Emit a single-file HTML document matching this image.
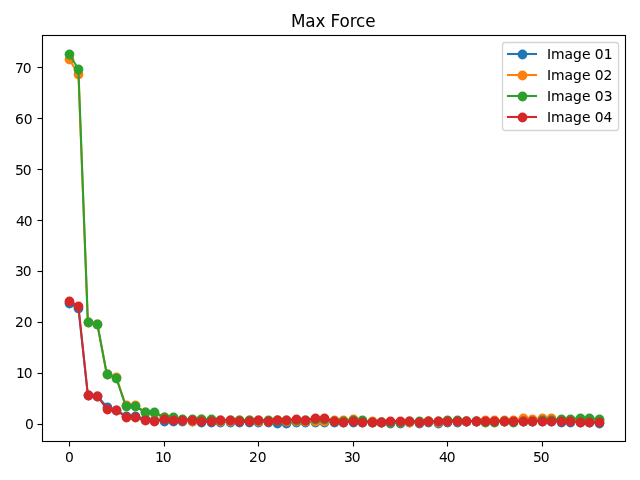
<!DOCTYPE html>
<html lang="en">
<head>
<meta charset="utf-8">
<title>Max Force</title>
<style>
html,body{margin:0;padding:0;background:#ffffff;width:640px;height:480px;overflow:hidden}
svg{display:block;width:640px;height:480px}
</style>
</head>
<body>
<svg width="640" height="480" viewBox="0 0 640 480">
<rect x="0" y="0" width="640" height="480" fill="#ffffff"/>
<defs><clipPath id="axclip"><rect x="42.5" y="35.5" width="583.0" height="406.0"/></clipPath></defs>
<g clip-path="url(#axclip)">
<g fill="#1f77b4" stroke="none">
<polyline points="68.94,303.00 78.40,308.00 87.86,395.00 97.31,396.00 106.77,407.00 116.23,410.00 125.68,416.00 135.14,416.00 144.60,419.00 154.05,420.00 163.51,421.00 172.97,421.00 182.42,421.00 191.88,421.00 201.34,422.00 210.79,422.00 220.25,422.00 229.71,422.00 239.17,422.00 248.62,422.00 258.08,422.00 267.54,422.00 276.99,423.00 286.45,423.00 295.91,422.00 305.36,422.00 314.82,422.00 324.28,422.00 333.73,422.00 343.19,422.00 352.65,422.00 362.10,422.00 371.56,422.00 381.02,422.00 390.47,423.00 399.93,423.00 409.39,422.00 418.84,423.00 428.30,422.00 437.76,423.00 447.21,422.00 456.67,422.00 466.13,421.00 475.58,421.00 485.04,421.00 494.50,421.00 503.95,421.00 513.41,421.00 522.87,421.00 532.32,421.00 541.78,421.00 551.24,421.00 560.69,422.00 570.15,422.00 579.61,422.00 589.06,422.00 598.52,423.00" fill="none" stroke="#1f77b4" stroke-width="2.083" stroke-linejoin="round" stroke-linecap="square"/>
<circle cx="69.5" cy="303.5" r="4.88"/><circle cx="78.5" cy="308.5" r="4.88"/><circle cx="88.5" cy="395.5" r="4.88"/><circle cx="97.5" cy="396.5" r="4.88"/><circle cx="107.5" cy="407.5" r="4.88"/><circle cx="116.5" cy="410.5" r="4.88"/><circle cx="126.5" cy="416.5" r="4.88"/><circle cx="135.5" cy="416.5" r="4.88"/><circle cx="145.5" cy="419.5" r="4.88"/><circle cx="154.5" cy="420.5" r="4.88"/><circle cx="164.5" cy="421.5" r="4.88"/><circle cx="173.5" cy="421.5" r="4.88"/><circle cx="182.5" cy="421.5" r="4.88"/><circle cx="192.5" cy="421.5" r="4.88"/><circle cx="201.5" cy="422.5" r="4.88"/><circle cx="211.5" cy="422.5" r="4.88"/><circle cx="220.5" cy="422.5" r="4.88"/><circle cx="230.5" cy="422.5" r="4.88"/><circle cx="239.5" cy="422.5" r="4.88"/><circle cx="249.5" cy="422.5" r="4.88"/><circle cx="258.5" cy="422.5" r="4.88"/><circle cx="268.5" cy="422.5" r="4.88"/><circle cx="277.5" cy="423.5" r="4.88"/><circle cx="286.5" cy="423.5" r="4.88"/><circle cx="296.5" cy="422.5" r="4.88"/><circle cx="305.5" cy="422.5" r="4.88"/><circle cx="315.5" cy="422.5" r="4.88"/><circle cx="324.5" cy="422.5" r="4.88"/><circle cx="334.5" cy="422.5" r="4.88"/><circle cx="343.5" cy="422.5" r="4.88"/><circle cx="353.5" cy="422.5" r="4.88"/><circle cx="362.5" cy="422.5" r="4.88"/><circle cx="372.5" cy="422.5" r="4.88"/><circle cx="381.5" cy="422.5" r="4.88"/><circle cx="390.5" cy="423.5" r="4.88"/><circle cx="400.5" cy="423.5" r="4.88"/><circle cx="409.5" cy="422.5" r="4.88"/><circle cx="419.5" cy="423.5" r="4.88"/><circle cx="428.5" cy="422.5" r="4.88"/><circle cx="438.5" cy="423.5" r="4.88"/><circle cx="447.5" cy="422.5" r="4.88"/><circle cx="457.5" cy="422.5" r="4.88"/><circle cx="466.5" cy="421.5" r="4.88"/><circle cx="476.5" cy="421.5" r="4.88"/><circle cx="485.5" cy="421.5" r="4.88"/><circle cx="494.5" cy="421.5" r="4.88"/><circle cx="504.5" cy="421.5" r="4.88"/><circle cx="513.5" cy="421.5" r="4.88"/><circle cx="523.5" cy="421.5" r="4.88"/><circle cx="532.5" cy="421.5" r="4.88"/><circle cx="542.5" cy="421.5" r="4.88"/><circle cx="551.5" cy="421.5" r="4.88"/><circle cx="561.5" cy="422.5" r="4.88"/><circle cx="570.5" cy="422.5" r="4.88"/><circle cx="580.5" cy="422.5" r="4.88"/><circle cx="589.5" cy="422.5" r="4.88"/><circle cx="599.5" cy="423.5" r="4.88"/>
</g>
<g fill="#ff7f0e" stroke="none">
<polyline points="68.94,59.00 78.40,74.00 87.86,322.00 97.31,324.00 106.77,374.00 116.23,377.00 125.68,405.00 135.14,405.00 144.60,412.00 154.05,413.00 163.51,417.00 172.97,418.00 182.42,420.00 191.88,421.00 201.34,419.00 210.79,420.00 220.25,421.00 229.71,421.00 239.17,420.00 248.62,420.00 258.08,421.00 267.54,421.00 276.99,420.00 286.45,421.00 295.91,421.00 305.36,421.00 314.82,421.00 324.28,421.00 333.73,420.00 343.19,420.00 352.65,419.00 362.10,421.00 371.56,421.00 381.02,422.00 390.47,422.00 399.93,422.00 409.39,422.00 418.84,422.00 428.30,421.00 437.76,422.00 447.21,421.00 456.67,421.00 466.13,421.00 475.58,421.00 485.04,420.00 494.50,420.00 503.95,420.00 513.41,420.00 522.87,418.00 532.32,419.00 541.78,418.00 551.24,418.00 560.69,420.00 570.15,420.00 579.61,420.00 589.06,420.00 598.52,420.00" fill="none" stroke="#ff7f0e" stroke-width="2.083" stroke-linejoin="round" stroke-linecap="square"/>
<circle cx="69.5" cy="59.5" r="4.88"/><circle cx="78.5" cy="74.5" r="4.88"/><circle cx="88.5" cy="322.5" r="4.88"/><circle cx="97.5" cy="324.5" r="4.88"/><circle cx="107.5" cy="374.5" r="4.88"/><circle cx="116.5" cy="377.5" r="4.88"/><circle cx="126.5" cy="405.5" r="4.88"/><circle cx="135.5" cy="405.5" r="4.88"/><circle cx="145.5" cy="412.5" r="4.88"/><circle cx="154.5" cy="413.5" r="4.88"/><circle cx="164.5" cy="417.5" r="4.88"/><circle cx="173.5" cy="418.5" r="4.88"/><circle cx="182.5" cy="420.5" r="4.88"/><circle cx="192.5" cy="421.5" r="4.88"/><circle cx="201.5" cy="419.5" r="4.88"/><circle cx="211.5" cy="420.5" r="4.88"/><circle cx="220.5" cy="421.5" r="4.88"/><circle cx="230.5" cy="421.5" r="4.88"/><circle cx="239.5" cy="420.5" r="4.88"/><circle cx="249.5" cy="420.5" r="4.88"/><circle cx="258.5" cy="421.5" r="4.88"/><circle cx="268.5" cy="421.5" r="4.88"/><circle cx="277.5" cy="420.5" r="4.88"/><circle cx="286.5" cy="421.5" r="4.88"/><circle cx="296.5" cy="421.5" r="4.88"/><circle cx="305.5" cy="421.5" r="4.88"/><circle cx="315.5" cy="421.5" r="4.88"/><circle cx="324.5" cy="421.5" r="4.88"/><circle cx="334.5" cy="420.5" r="4.88"/><circle cx="343.5" cy="420.5" r="4.88"/><circle cx="353.5" cy="419.5" r="4.88"/><circle cx="362.5" cy="421.5" r="4.88"/><circle cx="372.5" cy="421.5" r="4.88"/><circle cx="381.5" cy="422.5" r="4.88"/><circle cx="390.5" cy="422.5" r="4.88"/><circle cx="400.5" cy="422.5" r="4.88"/><circle cx="409.5" cy="422.5" r="4.88"/><circle cx="419.5" cy="422.5" r="4.88"/><circle cx="428.5" cy="421.5" r="4.88"/><circle cx="438.5" cy="422.5" r="4.88"/><circle cx="447.5" cy="421.5" r="4.88"/><circle cx="457.5" cy="421.5" r="4.88"/><circle cx="466.5" cy="421.5" r="4.88"/><circle cx="476.5" cy="421.5" r="4.88"/><circle cx="485.5" cy="420.5" r="4.88"/><circle cx="494.5" cy="420.5" r="4.88"/><circle cx="504.5" cy="420.5" r="4.88"/><circle cx="513.5" cy="420.5" r="4.88"/><circle cx="523.5" cy="418.5" r="4.88"/><circle cx="532.5" cy="419.5" r="4.88"/><circle cx="542.5" cy="418.5" r="4.88"/><circle cx="551.5" cy="418.5" r="4.88"/><circle cx="561.5" cy="420.5" r="4.88"/><circle cx="570.5" cy="420.5" r="4.88"/><circle cx="580.5" cy="420.5" r="4.88"/><circle cx="589.5" cy="420.5" r="4.88"/><circle cx="599.5" cy="420.5" r="4.88"/>
</g>
<g fill="#2ca02c" stroke="none">
<polyline points="68.94,54.00 78.40,69.00 87.86,322.00 97.31,324.00 106.77,374.00 116.23,378.00 125.68,406.00 135.14,406.00 144.60,412.00 154.05,412.00 163.51,417.00 172.97,417.00 182.42,419.00 191.88,419.00 201.34,419.00 210.79,419.00 220.25,420.00 229.71,420.00 239.17,420.00 248.62,420.00 258.08,420.00 267.54,420.00 276.99,420.00 286.45,420.00 295.91,420.00 305.36,420.00 314.82,419.00 324.28,419.00 333.73,421.00 343.19,421.00 352.65,420.00 362.10,420.00 371.56,422.00 381.02,422.00 390.47,422.00 399.93,422.00 409.39,421.00 418.84,421.00 428.30,421.00 437.76,421.00 447.21,420.00 456.67,420.00 466.13,421.00 475.58,421.00 485.04,422.00 494.50,422.00 503.95,421.00 513.41,422.00 522.87,421.00 532.32,421.00 541.78,420.00 551.24,420.00 560.69,419.00 570.15,419.00 579.61,418.00 589.06,418.00 598.52,419.00" fill="none" stroke="#2ca02c" stroke-width="2.083" stroke-linejoin="round" stroke-linecap="square"/>
<circle cx="69.5" cy="54.5" r="4.88"/><circle cx="78.5" cy="69.5" r="4.88"/><circle cx="88.5" cy="322.5" r="4.88"/><circle cx="97.5" cy="324.5" r="4.88"/><circle cx="107.5" cy="374.5" r="4.88"/><circle cx="116.5" cy="378.5" r="4.88"/><circle cx="126.5" cy="406.5" r="4.88"/><circle cx="135.5" cy="406.5" r="4.88"/><circle cx="145.5" cy="412.5" r="4.88"/><circle cx="154.5" cy="412.5" r="4.88"/><circle cx="164.5" cy="417.5" r="4.88"/><circle cx="173.5" cy="417.5" r="4.88"/><circle cx="182.5" cy="419.5" r="4.88"/><circle cx="192.5" cy="419.5" r="4.88"/><circle cx="201.5" cy="419.5" r="4.88"/><circle cx="211.5" cy="419.5" r="4.88"/><circle cx="220.5" cy="420.5" r="4.88"/><circle cx="230.5" cy="420.5" r="4.88"/><circle cx="239.5" cy="420.5" r="4.88"/><circle cx="249.5" cy="420.5" r="4.88"/><circle cx="258.5" cy="420.5" r="4.88"/><circle cx="268.5" cy="420.5" r="4.88"/><circle cx="277.5" cy="420.5" r="4.88"/><circle cx="286.5" cy="420.5" r="4.88"/><circle cx="296.5" cy="420.5" r="4.88"/><circle cx="305.5" cy="420.5" r="4.88"/><circle cx="315.5" cy="419.5" r="4.88"/><circle cx="324.5" cy="419.5" r="4.88"/><circle cx="334.5" cy="421.5" r="4.88"/><circle cx="343.5" cy="421.5" r="4.88"/><circle cx="353.5" cy="420.5" r="4.88"/><circle cx="362.5" cy="420.5" r="4.88"/><circle cx="372.5" cy="422.5" r="4.88"/><circle cx="381.5" cy="422.5" r="4.88"/><circle cx="390.5" cy="422.5" r="4.88"/><circle cx="400.5" cy="422.5" r="4.88"/><circle cx="409.5" cy="421.5" r="4.88"/><circle cx="419.5" cy="421.5" r="4.88"/><circle cx="428.5" cy="421.5" r="4.88"/><circle cx="438.5" cy="421.5" r="4.88"/><circle cx="447.5" cy="420.5" r="4.88"/><circle cx="457.5" cy="420.5" r="4.88"/><circle cx="466.5" cy="421.5" r="4.88"/><circle cx="476.5" cy="421.5" r="4.88"/><circle cx="485.5" cy="422.5" r="4.88"/><circle cx="494.5" cy="422.5" r="4.88"/><circle cx="504.5" cy="421.5" r="4.88"/><circle cx="513.5" cy="422.5" r="4.88"/><circle cx="523.5" cy="421.5" r="4.88"/><circle cx="532.5" cy="421.5" r="4.88"/><circle cx="542.5" cy="420.5" r="4.88"/><circle cx="551.5" cy="420.5" r="4.88"/><circle cx="561.5" cy="419.5" r="4.88"/><circle cx="570.5" cy="419.5" r="4.88"/><circle cx="580.5" cy="418.5" r="4.88"/><circle cx="589.5" cy="418.5" r="4.88"/><circle cx="599.5" cy="419.5" r="4.88"/>
</g>
<g fill="#d62728" stroke="none">
<polyline points="68.94,301.00 78.40,306.00 87.86,395.00 97.31,396.00 106.77,409.00 116.23,410.00 125.68,417.00 135.14,417.00 144.60,420.00 154.05,421.00 163.51,419.00 172.97,420.00 182.42,420.00 191.88,420.00 201.34,421.00 210.79,421.00 220.25,420.00 229.71,420.00 239.17,421.00 248.62,421.00 258.08,420.00 267.54,421.00 276.99,420.00 286.45,420.00 295.91,419.00 305.36,420.00 314.82,418.00 324.28,418.00 333.73,421.00 343.19,422.00 352.65,421.00 362.10,422.00 371.56,422.00 381.02,422.00 390.47,421.00 399.93,421.00 409.39,421.00 418.84,422.00 428.30,421.00 437.76,421.00 447.21,421.00 456.67,421.00 466.13,421.00 475.58,421.00 485.04,421.00 494.50,421.00 503.95,421.00 513.41,421.00 522.87,421.00 532.32,421.00 541.78,421.00 551.24,421.00 560.69,421.00 570.15,421.00 579.61,422.00 589.06,422.00 598.52,422.00" fill="none" stroke="#d62728" stroke-width="2.083" stroke-linejoin="round" stroke-linecap="square"/>
<circle cx="69.5" cy="301.5" r="4.88"/><circle cx="78.5" cy="306.5" r="4.88"/><circle cx="88.5" cy="395.5" r="4.88"/><circle cx="97.5" cy="396.5" r="4.88"/><circle cx="107.5" cy="409.5" r="4.88"/><circle cx="116.5" cy="410.5" r="4.88"/><circle cx="126.5" cy="417.5" r="4.88"/><circle cx="135.5" cy="417.5" r="4.88"/><circle cx="145.5" cy="420.5" r="4.88"/><circle cx="154.5" cy="421.5" r="4.88"/><circle cx="164.5" cy="419.5" r="4.88"/><circle cx="173.5" cy="420.5" r="4.88"/><circle cx="182.5" cy="420.5" r="4.88"/><circle cx="192.5" cy="420.5" r="4.88"/><circle cx="201.5" cy="421.5" r="4.88"/><circle cx="211.5" cy="421.5" r="4.88"/><circle cx="220.5" cy="420.5" r="4.88"/><circle cx="230.5" cy="420.5" r="4.88"/><circle cx="239.5" cy="421.5" r="4.88"/><circle cx="249.5" cy="421.5" r="4.88"/><circle cx="258.5" cy="420.5" r="4.88"/><circle cx="268.5" cy="421.5" r="4.88"/><circle cx="277.5" cy="420.5" r="4.88"/><circle cx="286.5" cy="420.5" r="4.88"/><circle cx="296.5" cy="419.5" r="4.88"/><circle cx="305.5" cy="420.5" r="4.88"/><circle cx="315.5" cy="418.5" r="4.88"/><circle cx="324.5" cy="418.5" r="4.88"/><circle cx="334.5" cy="421.5" r="4.88"/><circle cx="343.5" cy="422.5" r="4.88"/><circle cx="353.5" cy="421.5" r="4.88"/><circle cx="362.5" cy="422.5" r="4.88"/><circle cx="372.5" cy="422.5" r="4.88"/><circle cx="381.5" cy="422.5" r="4.88"/><circle cx="390.5" cy="421.5" r="4.88"/><circle cx="400.5" cy="421.5" r="4.88"/><circle cx="409.5" cy="421.5" r="4.88"/><circle cx="419.5" cy="422.5" r="4.88"/><circle cx="428.5" cy="421.5" r="4.88"/><circle cx="438.5" cy="421.5" r="4.88"/><circle cx="447.5" cy="421.5" r="4.88"/><circle cx="457.5" cy="421.5" r="4.88"/><circle cx="466.5" cy="421.5" r="4.88"/><circle cx="476.5" cy="421.5" r="4.88"/><circle cx="485.5" cy="421.5" r="4.88"/><circle cx="494.5" cy="421.5" r="4.88"/><circle cx="504.5" cy="421.5" r="4.88"/><circle cx="513.5" cy="421.5" r="4.88"/><circle cx="523.5" cy="421.5" r="4.88"/><circle cx="532.5" cy="421.5" r="4.88"/><circle cx="542.5" cy="421.5" r="4.88"/><circle cx="551.5" cy="421.5" r="4.88"/><circle cx="561.5" cy="421.5" r="4.88"/><circle cx="570.5" cy="421.5" r="4.88"/><circle cx="580.5" cy="422.5" r="4.88"/><circle cx="589.5" cy="422.5" r="4.88"/><circle cx="599.5" cy="422.5" r="4.88"/>
</g>
</g>
<g stroke="#000000" stroke-width="1.111" fill="none">
<line x1="69.5" y1="441.5" x2="69.5" y2="446.5"/>
<line x1="164.5" y1="441.5" x2="164.5" y2="446.5"/>
<line x1="258.5" y1="441.5" x2="258.5" y2="446.5"/>
<line x1="353.5" y1="441.5" x2="353.5" y2="446.5"/>
<line x1="447.5" y1="441.5" x2="447.5" y2="446.5"/>
<line x1="542.5" y1="441.5" x2="542.5" y2="446.5"/>
<line x1="37.5" y1="424.5" x2="42.5" y2="424.5"/>
<line x1="37.5" y1="373.5" x2="42.5" y2="373.5"/>
<line x1="37.5" y1="322.5" x2="42.5" y2="322.5"/>
<line x1="37.5" y1="271.5" x2="42.5" y2="271.5"/>
<line x1="37.5" y1="220.5" x2="42.5" y2="220.5"/>
<line x1="37.5" y1="169.5" x2="42.5" y2="169.5"/>
<line x1="37.5" y1="118.5" x2="42.5" y2="118.5"/>
<line x1="37.5" y1="67.5" x2="42.5" y2="67.5"/>
<rect x="42.5" y="35.5" width="583.0" height="406.0"/>
</g>
<g font-family="'DejaVu Sans', 'Liberation Sans', sans-serif" font-size="13.889px" fill="#000000">
<text id="xl0" x="64.89" y="461.50">0</text>
<text id="xl10" x="154.97 162.68" y="461.50">10</text>
<text id="xl20" x="248.97 257.68" y="461.50">20</text>
<text id="xl30" x="343.97 351.68" y="461.50">30</text>
<text id="xl40" x="438.97 446.68" y="461.50">40</text>
<text id="xl50" x="532.97 540.68" y="461.50">50</text>
<text id="yl0" x="24.97" y="428.50">0</text>
<text id="yl10" x="15.94 23.66" y="377.50">10</text>
<text id="yl20" x="14.94 23.66" y="326.50">20</text>
<text id="yl30" x="14.94 22.66" y="275.50">30</text>
<text id="yl40" x="15.94 23.66" y="225.50">40</text>
<text id="yl50" x="14.94 22.66" y="174.50">50</text>
<text id="yl60" x="14.94 23.66" y="123.50">60</text>
<text id="yl70" x="14.94 22.66" y="72.50">70</text>
</g>
<text id="title" x="290.91 305.18 315.46 325.40 330.43 339.39 349.65 355.89 365.20" y="26.60" font-family="'DejaVu Sans', 'Liberation Sans', sans-serif" font-size="16.8px" fill="#000000" stroke="#000000" stroke-width="0.03" stroke-linejoin="round">Max Force</text>
<rect x="502.5" y="42.5" width="116.0" height="88.0" rx="2.78" ry="2.78" fill="#ffffff" fill-opacity="0.8" stroke="#cccccc" stroke-opacity="0.8" stroke-width="1.389"/>
<g font-family="'DejaVu Sans', 'Liberation Sans', sans-serif" font-size="13.889px">
<line x1="508" y1="54.0" x2="536" y2="54.0" stroke="#1f77b4" stroke-width="2.083" stroke-linecap="square"/>
<circle cx="522.5" cy="54.5" r="4.88" fill="#1f77b4"/>
<text id="lg0" x="546.90 550.88 564.39 572.91 581.91 590.45 594.66 603.69" y="58.50" fill="#000000" stroke="#000000" stroke-width="0.05" stroke-linejoin="round">Image 01</text>
<line x1="508" y1="75.0" x2="536" y2="75.0" stroke="#ff7f0e" stroke-width="2.083" stroke-linecap="square"/>
<circle cx="522.5" cy="75.5" r="4.88" fill="#ff7f0e"/>
<text id="lg1" x="546.90 550.88 564.39 572.91 581.91 590.45 594.66 603.39" y="79.50" fill="#000000" stroke="#000000" stroke-width="0.05" stroke-linejoin="round">Image 02</text>
<line x1="508" y1="96.0" x2="536" y2="96.0" stroke="#2ca02c" stroke-width="2.083" stroke-linecap="square"/>
<circle cx="522.5" cy="96.5" r="4.88" fill="#2ca02c"/>
<text id="lg2" x="546.90 550.88 564.39 572.91 581.91 590.45 594.66 603.69" y="100.50" fill="#000000" stroke="#000000" stroke-width="0.05" stroke-linejoin="round">Image 03</text>
<line x1="508" y1="117.0" x2="536" y2="117.0" stroke="#d62728" stroke-width="2.083" stroke-linecap="square"/>
<circle cx="522.5" cy="117.5" r="4.88" fill="#d62728"/>
<text id="lg3" x="546.90 550.88 564.39 572.91 581.91 590.45 594.66 603.39" y="121.50" fill="#000000" stroke="#000000" stroke-width="0.05" stroke-linejoin="round">Image 04</text>
</g>
</svg>
</body>
</html>
